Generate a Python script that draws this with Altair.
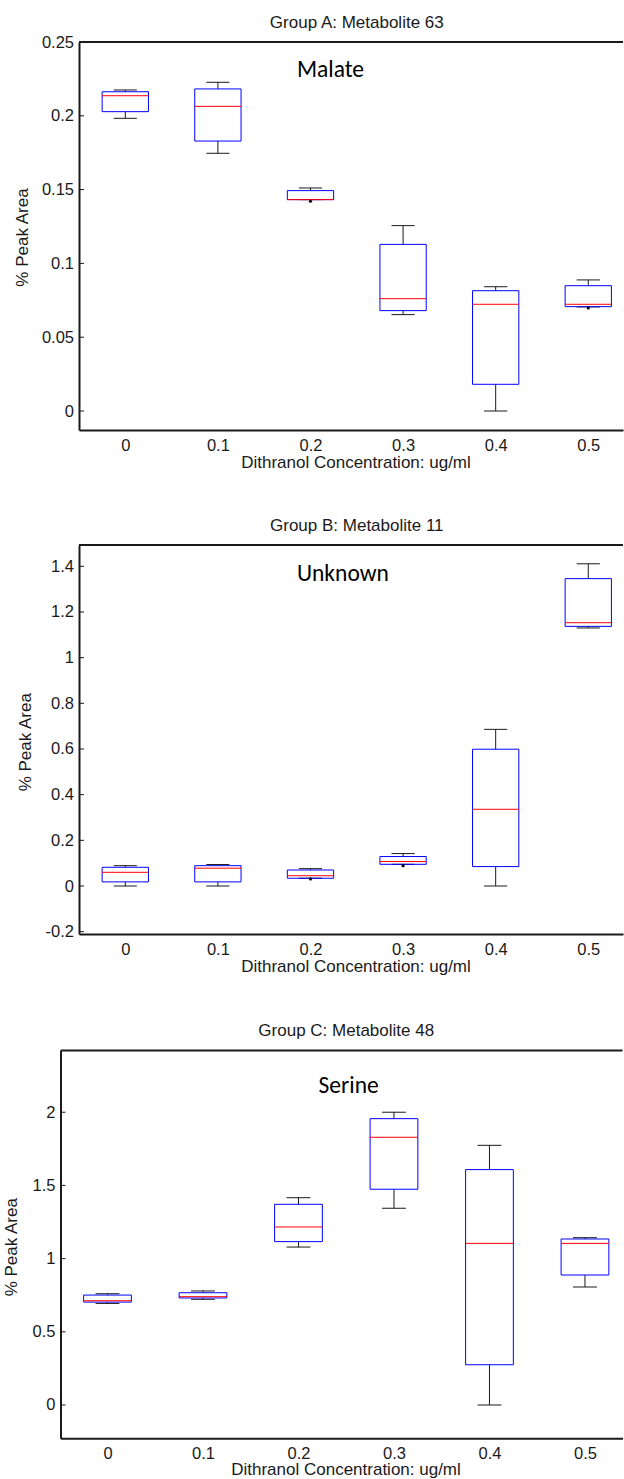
import altair as alt
import pandas as pd

# ---------------- data ----------------
conc = [0, 0.1, 0.2, 0.3, 0.4, 0.5]
x_ticks = [0, 0.1, 0.2, 0.3, 0.4, 0.5]

a_title = "Group A: Metabolite 63"
a_label = "Malate"
a_lower = [0.1983, 0.1746, 0.1432, 0.0653, 0.0, 0.0705]
a_q1 = [0.2028, 0.1829, 0.1432, 0.0680, 0.0181, 0.0707]
a_median = [0.2136, 0.2064, 0.1432, 0.0761, 0.0723, 0.0723]
a_q3 = [0.2163, 0.2182, 0.1493, 0.1129, 0.0815, 0.0849]
a_upper = [0.2175, 0.2227, 0.1511, 0.1256, 0.0842, 0.0888]
a_out_x = [0.2, 0.5]
a_out_y = [0.1421, 0.0698]
a_yticks = [0, 0.05, 0.1, 0.15, 0.2, 0.25]

b_title = "Group B: Metabolite 11"
b_label = "Unknown"
b_lower = [0.0, 0.0, 0.034, 0.095, 0.0, 1.130]
b_q1 = [0.018, 0.018, 0.034, 0.095, 0.085, 1.137]
b_median = [0.060, 0.078, 0.045, 0.107, 0.336, 1.153]
b_q3 = [0.082, 0.089, 0.070, 0.129, 0.599, 1.346]
b_upper = [0.089, 0.094, 0.076, 0.142, 0.686, 1.411]
b_out_x = [0.2, 0.3]
b_out_y = [0.031, 0.089]
b_yticks = [-0.2, 0, 0.2, 0.4, 0.6, 0.8, 1.0, 1.2, 1.4]

c_title = "Group C: Metabolite 48"
c_label = "Serine"
c_lower = [0.694, 0.722, 1.079, 1.344, 0.0, 0.806]
c_q1 = [0.703, 0.731, 1.116, 1.474, 0.275, 0.888]
c_median = [0.712, 0.740, 1.216, 1.829, 1.104, 1.104]
c_q3 = [0.751, 0.767, 1.371, 1.956, 1.608, 1.134]
c_upper = [0.760, 0.779, 1.416, 2.0, 1.774, 1.143]
c_out_x = []
c_out_y = []
c_yticks = [0, 0.5, 1, 1.5, 2]

y_title = "% Peak Area"
x_title = "Dithranol Concentration: ug/ml"

AX_FONT = "Liberation Sans, Arial, sans-serif"
NOTE_FONT = "Carlito, Calibri, Lato, sans-serif"
DARK = "#1a1a1a"
W, H = 624, 1479


def panel(title, label, label_pos, lower, q1, med, q3, upper, out_x, out_y,
          yticks, ydom, xdom, left, right, top, bottom, ytitle_cx, ytitle_cy,
          xtitle_cx, xtitle_y):
    df = pd.DataFrame({"conc": conc, "lower": lower, "q1": q1, "median": med,
                       "q3": q3, "upper": upper})
    xscale = alt.Scale(domain=xdom, range=[left, right], nice=False, zero=False)
    yscale = alt.Scale(domain=ydom, range=[bottom, top], nice=False, zero=False)
    xaxis = alt.Axis(orient="bottom", offset=bottom - H, values=x_ticks,
                     format=".1~f", ticks=False, tickSize=0, grid=False,
                     domainColor=DARK, domainWidth=2,
                     labelFont=AX_FONT, labelFontSize=16.5, labelColor=DARK,
                     labelPadding=7.5, title=x_title, titleFont=AX_FONT,
                     titleFontSize=17, titleFontWeight="normal", titleColor=DARK,
                     titleX=xtitle_cx, titleY=xtitle_y, titleAlign="center",
                     titleBaseline="top")
    yaxis = alt.Axis(orient="left", offset=-left, values=yticks, ticks=False,
                     tickSize=0, grid=False,
                     labelExpr="datum.value < 0 ? '-' + format(-datum.value, '~g') : format(datum.value, '~g')",
                     domainColor=DARK, domainWidth=2, labelFont=AX_FONT,
                     labelFontSize=16.5, labelColor=DARK, labelPadding=5.5,
                     title=y_title, titleFont=AX_FONT, titleFontSize=17,
                     titleFontWeight="normal", titleColor=DARK, titleAngle=270,
                     titleX=ytitle_cx - left, titleY=ytitle_cy, titleAlign="center",
                     titleBaseline="middle")

    def X(f):
        return alt.X(f, type="quantitative", scale=xscale, axis=xaxis)

    def Y(f):
        return alt.Y(f, type="quantitative", scale=yscale, axis=yaxis)

    base = alt.Chart(df).transform_calculate(
        xl="datum.conc - 0.025", xr="datum.conc + 0.025",
        cl="datum.conc - 0.0125", cr="datum.conc + 0.0125")

    whisk_lo = base.mark_rule(color=DARK, strokeWidth=1).encode(
        x=X("conc"), y=Y("lower"), y2="q1")
    whisk_hi = base.mark_rule(color=DARK, strokeWidth=1).encode(
        x=X("conc"), y=Y("q3"), y2="upper")
    cap_lo = base.mark_rule(color=DARK, strokeWidth=1).encode(
        x=X("cl"), x2="cr", y=Y("lower"))
    cap_hi = base.mark_rule(color=DARK, strokeWidth=1).encode(
        x=X("cl"), x2="cr", y=Y("upper"))
    box = base.mark_rect(fill="white", fillOpacity=0, stroke="#0000ff",
                         strokeWidth=1).encode(
        x=X("xl"), x2="xr", y=Y("q1"), y2="q3")
    medline = base.mark_rule(color="#ff0000", strokeWidth=1).encode(
        x=X("xl"), x2="xr", y=Y("median"))

    layers = [whisk_lo, whisk_hi, cap_lo, cap_hi, box, medline]

    if out_x:
        odf = pd.DataFrame({"conc": out_x, "val": out_y})
        layers.append(alt.Chart(odf).mark_circle(size=10, color="black", opacity=1)
                      .encode(x=X("conc"), y=Y("val")))

    # inward y ticks
    tdf = pd.DataFrame({"v": yticks})
    layers.append(alt.Chart(tdf).mark_rule(color=DARK, strokeWidth=1).encode(
        y=Y("v"), x=alt.value(left), x2=alt.value(left + 5)))

    one = pd.DataFrame({"t": ["."]})
    # top frame line
    layers.append(alt.Chart(one).mark_rule(color=DARK, strokeWidth=2).encode(
        x=alt.value(left), x2=alt.value(right), y=alt.value(top)))
    # panel title
    layers.append(alt.Chart(one).mark_text(font=AX_FONT, fontSize=17, color=DARK,
                                           align="center", baseline="alphabetic",
                                           text=title).encode(
        x=alt.XDatum(0.25, type="quantitative", scale=xscale, axis=xaxis),
        y=alt.value(top - 14.5)))
    # annotation
    layers.append(alt.Chart(one).mark_text(font=NOTE_FONT, fontSize=23.5, color="black",
                                           align="center", baseline="alphabetic",
                                           text=label).encode(
        x=alt.XDatum(label_pos[0], type="quantitative", scale=xscale, axis=xaxis),
        y=alt.YDatum(label_pos[1], type="quantitative", scale=yscale, axis=yaxis)))

    return alt.layer(*layers)


pa = panel(a_title, a_label, (0.2216, 0.2261), a_lower, a_q1, a_median, a_q3, a_upper,
           a_out_x, a_out_y, a_yticks, [-0.01287, 0.25], [-0.05, 0.5375],
           79, 623, 42, 430, 22.3, 237, 355.5, 24.2)
pb = panel(b_title, b_label, (0.235, 1.3356), b_lower, b_q1, b_median, b_q3, b_upper,
           b_out_x, b_out_y, b_yticks, [-0.2102, 1.4933], [-0.05, 0.5375],
           79, 623, 545, 934, 25.9, 741.7, 355.5, 24.2)
pc = panel(c_title, c_label, (0.2525, 2.1335), c_lower, c_q1, c_median, c_q3, c_upper,
           c_out_x, c_out_y, c_yticks, [-0.2275, 2.4217], [-0.0492, 0.5393],
           60.5, 622.5, 1050.5, 1438.3, 11.5, 1246.7, 345.5, 23.3)

chart = alt.layer(pa, pb, pc).resolve_scale(
    x="independent", y="independent"
).resolve_axis(
    x="independent", y="independent"
).properties(
    width=W, height=H, padding=0, autosize=alt.AutoSizeParams(type="none")
).configure_view(stroke=None)

chart.save("out.html", embed_options={"renderer": "svg", "actions": False})
